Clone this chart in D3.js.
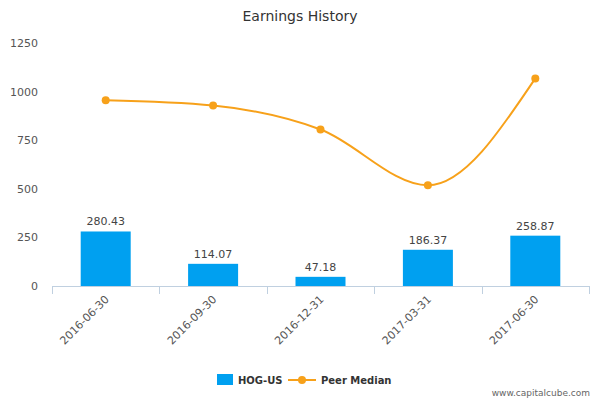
<!DOCTYPE html>
<html><head><meta charset="utf-8">
<script src="https://cdn.jsdelivr.net/npm/d3@7"></script>
<style>body{margin:0;background:#fff}text{font-family:"DejaVu Sans",sans-serif}</style>
</head><body><svg id="c" width="600" height="400"></svg>
<script>
const categories=["2016-06-30","2016-09-30","2016-12-31","2017-03-31","2017-06-30"];
const hogValues=[280.43,114.07,47.18,186.37,258.87];
const peerMedian=[955,928,805,518,1068];
const yTicks=[0,250,500,750,1000,1250];
const svg=d3.select("#c");
const L=52,R=589,T=43,B=286;
const x=d3.scaleBand().domain(categories).range([L,R]);
const y=d3.scaleLinear().domain([0,1250]).range([B,T]);
svg.append("text").attr("x",300).attr("y",21).attr("text-anchor","middle").attr("font-size",14).attr("fill","#333").text("Earnings History");
svg.selectAll(".yt").data(yTicks).join("text").attr("x",38).attr("y",d=>y(d)+4).attr("text-anchor","end").attr("font-size",11).attr("fill","#555").text(d=>d);
svg.append("line").attr("x1",L).attr("x2",R).attr("y1",B+0.5).attr("y2",B+0.5).attr("stroke","#c0d0e0");
categories.forEach((c,i)=>{const xx=Math.round(L+i*x.step())+0.5;svg.append("line").attr("x1",xx).attr("x2",xx).attr("y1",B).attr("y2",B+8).attr("stroke","#c0d0e0");});
svg.append("line").attr("x1",R+0.5).attr("x2",R+0.5).attr("y1",B).attr("y2",B+8).attr("stroke","#c0d0e0");
const bw=50;
svg.selectAll(".bar").data(hogValues).join("rect").attr("x",(d,i)=>x(categories[i])+x.bandwidth()/2-bw/2).attr("width",bw).attr("y",d=>y(d)).attr("height",d=>B-y(d)).attr("fill","#00a0f0");
svg.selectAll(".bl").data(hogValues).join("text").attr("x",(d,i)=>x(categories[i])+x.bandwidth()/2).attr("y",d=>y(d)-6).attr("text-anchor","middle").attr("font-size",11).attr("fill","#444").text(d=>d.toFixed(2));
const line=d3.line().x((d,i)=>x(categories[i])+x.bandwidth()/2).y(d=>y(d)).curve(d3.curveMonotoneX);
svg.append("path").attr("d",line(peerMedian)).attr("fill","none").attr("stroke","#f7a11a").attr("stroke-width",2);
svg.selectAll(".pt").data(peerMedian).join("circle").attr("cx",(d,i)=>x(categories[i])+x.bandwidth()/2).attr("cy",d=>y(d)).attr("r",4).attr("fill","#f7a11a");
categories.forEach(c=>{const cx=x(c)+x.bandwidth()/2;svg.append("text").attr("transform",`translate(${cx+4},${B+14}) rotate(-45)`).attr("text-anchor","end").attr("font-size",11).attr("fill","#555").text(c);});
svg.append("rect").attr("x",217).attr("y",374).attr("width",16).attr("height",11).attr("fill","#00a0f0");
svg.append("text").attr("x",238).attr("y",384).attr("font-size",10).attr("font-weight","bold").attr("fill","#333").text("HOG-US");
svg.append("line").attr("x1",288).attr("x2",316).attr("y1",380).attr("y2",380).attr("stroke","#f7a11a").attr("stroke-width",2);
svg.append("circle").attr("cx",302).attr("cy",380).attr("r",4).attr("fill","#f7a11a");
svg.append("text").attr("x",321).attr("y",384).attr("font-size",10).attr("font-weight","bold").attr("fill","#333").text("Peer Median");
svg.append("text").attr("x",590).attr("y",396).attr("text-anchor","end").attr("font-size",9).attr("fill","#666").text("www.capitalcube.com");
</script></body></html>
